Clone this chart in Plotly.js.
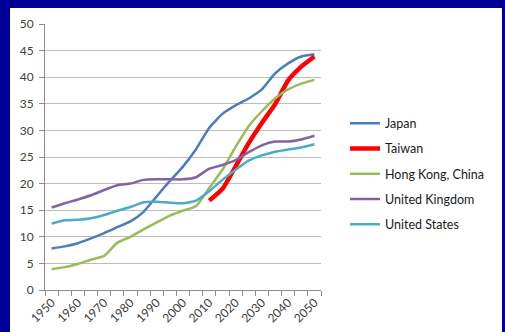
<!DOCTYPE html>
<html>
<head>
<meta charset="utf-8">
<script src="https://cdn.plot.ly/plotly-3.0.1.min.js"></script>
<style>
  html, body { margin: 0; padding: 0; width: 505px; height: 332px; overflow: hidden; background: #000099; }
  #panel { position: absolute; left: 10px; top: 8px; width: 492px; height: 324px; background: #ffffff; }
  #chart { width: 492px; height: 324px; }
</style>
</head>
<body>
<div id="panel"><div id="chart"></div></div>
<script>
// Share of population aged 60+ (%), 1950–2050
const years = [1950, 1955, 1960, 1965, 1970, 1975, 1980, 1985, 1990, 1995, 2000,
               2005, 2010, 2015, 2020, 2025, 2030, 2035, 2040, 2045, 2050];

const japan = [7.8, 8.2, 8.8, 9.7, 10.7, 11.8, 12.9, 14.7, 17.6, 20.5, 23.2,
               26.5, 30.5, 33.1, 34.7, 36.0, 37.7, 40.7, 42.6, 43.9, 44.3];
const taiwanYears = [2010, 2015, 2020, 2025, 2030, 2035, 2040, 2045, 2050];
const taiwan = [16.8, 19.0, 23.2, 27.6, 31.4, 34.9, 39.4, 42.0, 43.9];
const hongKong = [3.9, 4.3, 4.9, 5.7, 6.4, 8.9, 10.0, 11.4, 12.7, 14.0, 14.9,
                  15.8, 19.2, 22.6, 26.9, 30.8, 33.6, 36.0, 37.7, 38.8, 39.5];
const unitedKingdom = [15.5, 16.3, 17.0, 17.8, 18.8, 19.7, 20.0, 20.7, 20.8, 20.8, 20.8,
                       21.2, 22.8, 23.5, 24.4, 25.9, 27.2, 27.9, 27.9, 28.3, 29.0];
const unitedStates = [12.5, 13.1, 13.2, 13.5, 14.1, 14.9, 15.6, 16.5, 16.6, 16.4, 16.3,
                      16.8, 18.6, 20.7, 22.6, 24.3, 25.3, 26.0, 26.4, 26.8, 27.4];

const yearLabels = years.filter(y => y % 10 === 0);
const step = years[1] - years[0];
// category boundaries for the small tick marks between points
const boundaries = years.map(y => y - step / 2).concat([years[years.length - 1] + step / 2]);

function series(name, x, y, color, width, group) {
  return {
    type: 'scatter', mode: 'lines', name: name, x: x, y: y,
    legendgroup: group,
    line: { color: color, width: width, shape: 'spline', smoothing: 0.5 },
    hoverinfo: 'skip'
  };
}

const traces = [
  series('Japan', years, japan, '#4a7ebb', 2.5, 'a'),
  series('Taiwan', taiwanYears, taiwan, '#ff0000', 4.5, 'b'),
  series('Hong Kong, China', years, hongKong, '#9bbb59', 2.5, 'c'),
  series('United Kingdom', years, unitedKingdom, '#8064a2', 2.5, 'd'),
  series('United States', years, unitedStates, '#4bacc6', 2.5, 'e')
];

const tickFont = { family: 'Lato, "Open Sans", sans-serif', size: 12, color: '#404040' };

const layout = {
  width: 492, height: 324,
  margin: { l: 35, r: 164, t: 16, b: 42 },
  paper_bgcolor: '#ffffff',
  plot_bgcolor: '#ffffff',
  showlegend: true,
  legend: {
    x: 1.087, xanchor: 'left', y: 0.682, yanchor: 'top',
    font: { family: 'Lato, "Open Sans", sans-serif', size: 12.5, color: '#1a1a1a' },
    tracegroupgap: 6,
    bgcolor: 'rgba(0,0,0,0)'
  },
  xaxis: {
    range: [boundaries[0], boundaries[boundaries.length - 1]],
    tickmode: 'array', tickvals: yearLabels, ticktext: yearLabels.map(String),
    ticks: '', tickangle: -45, tickfont: tickFont,
    showgrid: false, zeroline: false,
    showline: true, linecolor: '#8c8c8c', linewidth: 1,
    minor: { tickmode: 'array', tickvals: boundaries, ticks: 'outside', ticklen: 5, tickcolor: '#8c8c8c', showgrid: false }
  },
  yaxis: {
    range: [0, 50], dtick: 5, tick0: 0,
    ticks: 'outside', ticklen: 5, tickcolor: '#8c8c8c', tickfont: tickFont,
    showgrid: true, gridcolor: '#bdbdbd', gridwidth: 1,
    zeroline: false, showline: true, linecolor: '#8c8c8c', linewidth: 1,
    ticklabelstandoff: 3
  }
};

Plotly.newPlot('chart', traces, layout, { staticPlot: true, displayModeBar: false });
</script>
</body>
</html>
